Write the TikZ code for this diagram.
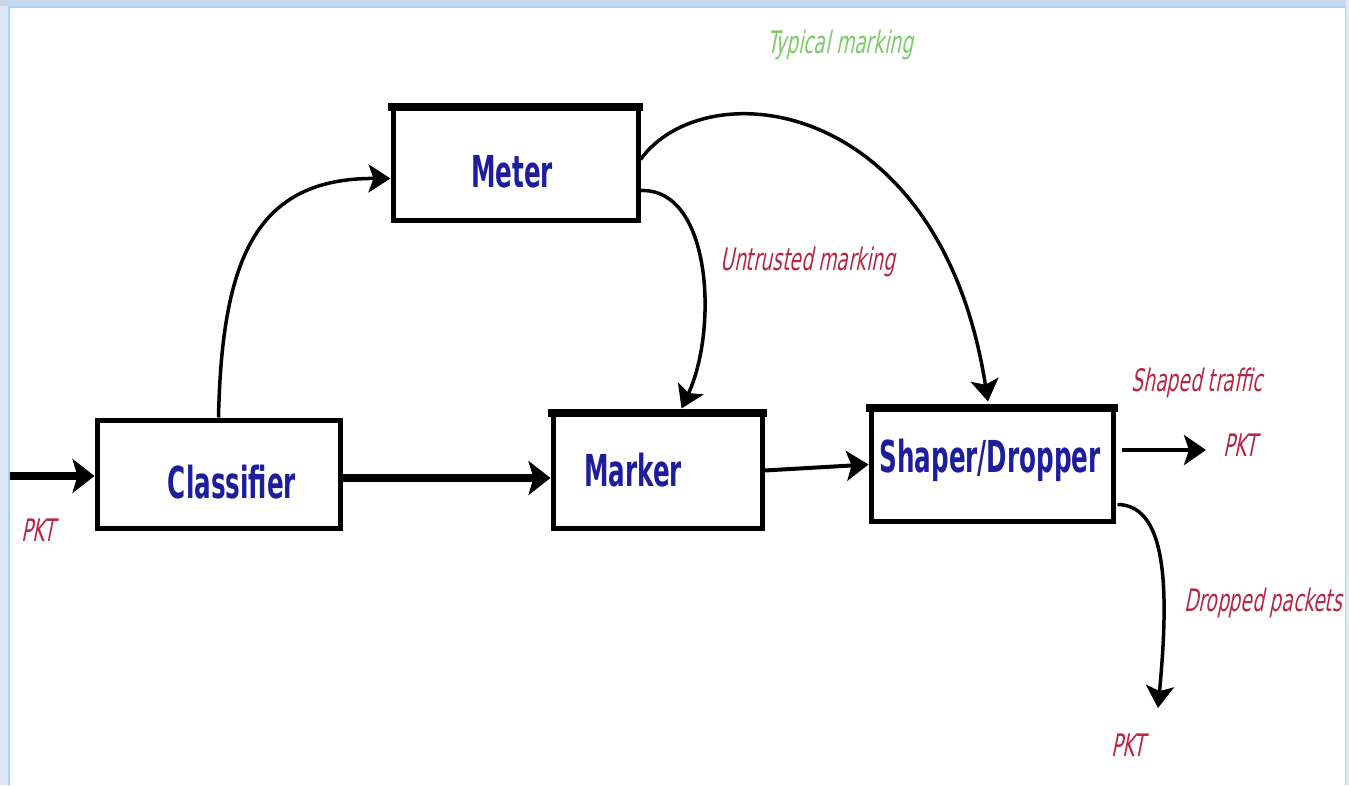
\documentclass[tikz,border=0pt]{standalone}
\usepackage{fontspec}
\setmainfont{DejaVu Sans}
\newfontfamily\boxfont[FakeStretch=0.56]{DejaVu Sans Bold}
\newfontfamily\labfont[FakeStretch=0.6,FakeSlant=0.2]{DejaVu Sans}
\usetikzlibrary{arrows.meta,calc}
\definecolor{nodeblue}{HTML}{1E1E9C}
\definecolor{labred}{HTML}{B52845}
\definecolor{labgreen}{HTML}{7CCB6A}
\definecolor{frameblue}{HTML}{DCE8F5}
\definecolor{frametop}{HTML}{C5D8EC}
\definecolor{frameline}{HTML}{A8D0FF}
\begin{document}
\begin{tikzpicture}[x=1pt,y=-1pt,
  blk/.style={draw=black,line width=5pt,fill=white,inner sep=0pt},
  blktext/.style={font=\boxfont\fontsize{44}{48}\selectfont,text=nodeblue,inner sep=0pt},
  lab/.style={font=\labfont\fontsize{31}{34}\selectfont,text=labred,inner sep=0pt},
  glab/.style={font=\labfont\fontsize{31}{34}\selectfont,text=labgreen,inner sep=0pt},
  bigarrow/.style={line width=8pt,-{Stealth[length=22pt,width=34pt,inset=5pt]}},
  midarrow/.style={line width=4pt,-{Stealth[length=22pt,width=30pt,inset=5pt]}},
  curvearrow/.style={line width=3.5pt,-{Stealth[length=22pt,width=28pt,inset=5pt]}}]
\useasboundingbox (0,0) rectangle (1349,785);
% frame
\fill[white] (0,0) rectangle (1349,785);
\fill[frameblue] (0,0) rectangle (8,785);
\fill[frametop] (0,0) rectangle (1349,6);
\fill[frameblue] (1346,0) rectangle (1349,785);
\draw[frameline,line width=1.5pt] (9,785) -- (9,7) -- (1345.5,7) -- (1345.5,785);
% boxes
\node[blk,minimum width=245pt,minimum height=113pt] (meter) at (515.5,163.5) {};
\node[blk,minimum width=243pt,minimum height=108pt] (cls) at (218.5,474) {};
\node[blk,minimum width=209pt,minimum height=115pt] (mark) at (657.5,470.5) {};
\node[blk,minimum width=242pt,minimum height=113pt] (shp) at (992,464.5) {};
\foreach \b in {meter,mark,shp}{
  \draw[line width=8pt] ($(\b.north west)+(-2.5,2)$) -- ($(\b.north east)+(2.5,2)$);
}
% box texts
\node[blktext] (tmeter) at (512,172) {Meter};
\node[blktext] (tcls) at (232,482) {Classifier};
\node[blktext] (tmark) at (633,470) {Marker};
\node[blktext] (tshp) at (990,460) {Shaper/Dropper};
% connectors
\coordinate (in) at (10,476);
\draw[bigarrow] (in) -- (in -| cls.west);
\draw[bigarrow] (cls.east |- 0,478) -- (mark.west |- 0,478);
\draw[midarrow] (mark.east) -- (shp.west);
\draw[curvearrow] (cls.north) .. controls (222,260) and (255,178) .. ($(meter.west)+(0,15)$);
\draw[curvearrow] ($(meter.east)+(0,27)$) .. controls (712,188) and (718,330) .. ($(mark.north)+(24,-2)$);
\draw[curvearrow] ($(meter.east)+(0,-4)$) .. controls (705,70) and (940,95) .. ($(shp.north)+(-4,-4)$);
\coordinate (outR) at (1206,450);
\draw[midarrow] (1122,450) -- (outR);
\coordinate (outD) at (1158,708);
\draw[curvearrow] ($(shp.east)+(2,40)$) .. controls (1170,505) and (1168,600) .. (outD);
% labels
\node[lab] (pktin) at (38,530) {PKT};
\node[glab] (ltyp) at (840,45) {Typical marking};
\node[lab] (lunt) at (808,262) {Untrusted marking};
\node[lab] (lshaped) at (1197,383) {Shaped traffic};
\node[lab] (pktR) at (1240,445) {PKT};
\node[lab,anchor=west] (ldrop) at (1184,603) {Dropped packets};
\node[lab] (pktD) at (1128,745) {PKT};
\end{tikzpicture}
\end{document}
